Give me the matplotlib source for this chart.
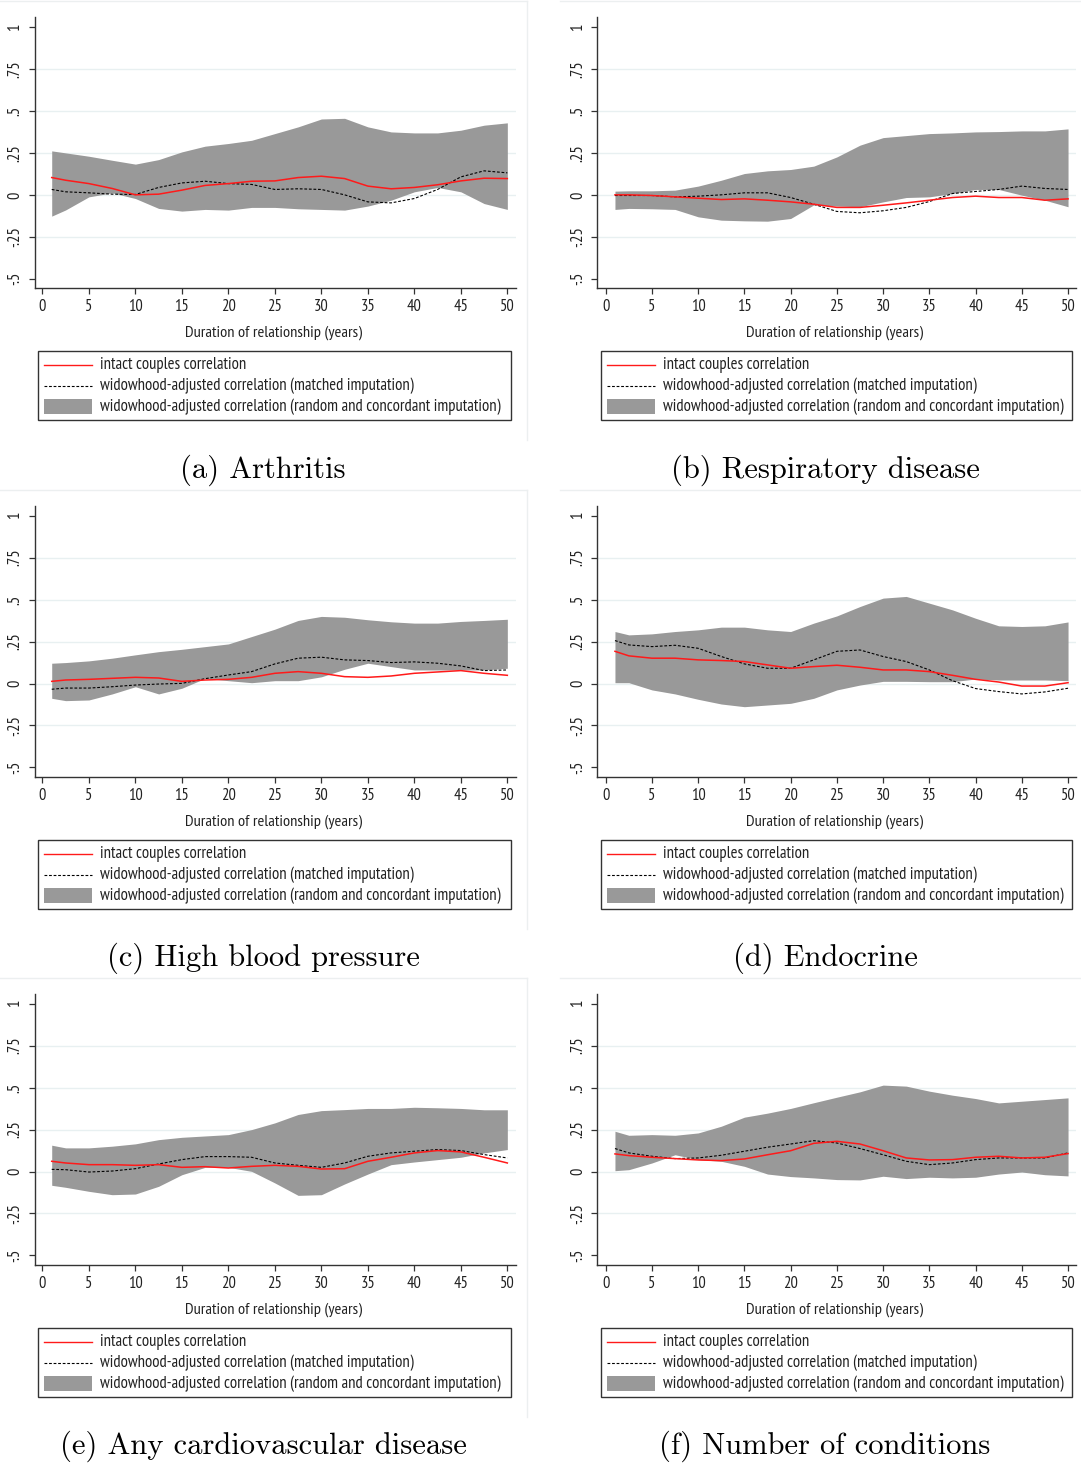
import matplotlib
matplotlib.use("Agg")
import matplotlib.pyplot as plt
from matplotlib import font_manager
from matplotlib.patches import Rectangle

# pick a narrow sans (the original uses Arial Narrow); fall back to Liberation Sans
narrow = "Liberation Sans"
for name in ["Liberation Sans Narrow", "Arial Narrow", "PT Sans Narrow", "Archivo Narrow",
             "Roboto Condensed", "Open Sans Condensed"]:
    try:
        font_manager.findfont(font_manager.FontProperties(family=name), fallback_to_default=False)
        narrow = name
        break
    except ValueError:
        pass
plt.rcParams['font.family'] = [narrow, 'DejaVu Sans']

# duration of relationship (years)
years = [1, 2.5, 5, 7.5, 10, 12.5, 15, 17.5, 20, 22.5, 25, 27.5, 30, 32.5, 35, 37.5, 40, 42.5, 45, 47.5, 50]

# (a) Arthritis
arth_red = [0.103, 0.087, 0.067, 0.038, 0.000, 0.004, 0.028, 0.056, 0.067, 0.081, 0.083, 0.103, 0.111, 0.097, 0.052, 0.036, 0.044, 0.060, 0.083, 0.099, 0.097]
arth_dash = [0.032, 0.018, 0.012, 0.004, 0.002, 0.044, 0.071, 0.081, 0.067, 0.062, 0.032, 0.036, 0.032, 0.000, -0.042, -0.048, -0.022, 0.032, 0.107, 0.143, 0.131]
arth_lo = [-0.127, -0.090, -0.012, 0.012, -0.022, -0.081, -0.097, -0.087, -0.091, -0.075, -0.075, -0.083, -0.087, -0.091, -0.067, -0.032, 0.018, 0.044, 0.018, -0.052, -0.087]
arth_hi = [0.262, 0.250, 0.230, 0.206, 0.183, 0.210, 0.256, 0.290, 0.306, 0.325, 0.365, 0.405, 0.452, 0.456, 0.405, 0.375, 0.369, 0.369, 0.385, 0.415, 0.429]

# (b) Respiratory disease
resp_red = [0.000, 0.000, -0.004, -0.012, -0.020, -0.028, -0.024, -0.032, -0.042, -0.056, -0.075, -0.075, -0.062, -0.048, -0.032, -0.016, -0.008, -0.016, -0.016, -0.032, -0.024]
resp_dash = [-0.004, -0.004, -0.004, -0.012, -0.008, 0.000, 0.012, 0.012, -0.016, -0.056, -0.099, -0.107, -0.095, -0.075, -0.040, 0.008, 0.020, 0.032, 0.052, 0.038, 0.032]
resp_lo = [-0.087, -0.081, -0.083, -0.087, -0.131, -0.151, -0.155, -0.157, -0.141, -0.060, -0.067, -0.071, -0.042, -0.016, -0.012, 0.008, 0.032, 0.032, -0.002, -0.032, -0.071]
resp_hi = [0.022, 0.024, 0.024, 0.028, 0.052, 0.087, 0.127, 0.143, 0.151, 0.171, 0.226, 0.296, 0.341, 0.353, 0.365, 0.369, 0.375, 0.377, 0.381, 0.381, 0.393]

# (c) High blood pressure
hbp_red = [0.013, 0.021, 0.025, 0.031, 0.037, 0.033, 0.013, 0.021, 0.025, 0.037, 0.061, 0.071, 0.061, 0.041, 0.037, 0.045, 0.061, 0.069, 0.077, 0.061, 0.049]
hbp_dash = [-0.034, -0.027, -0.027, -0.019, -0.009, -0.003, 0.001, 0.029, 0.051, 0.071, 0.117, 0.151, 0.157, 0.141, 0.137, 0.125, 0.129, 0.121, 0.105, 0.077, 0.081]
hbp_lo = [-0.088, -0.102, -0.098, -0.062, -0.019, -0.062, -0.028, 0.031, 0.017, 0.005, 0.017, 0.017, 0.040, 0.085, 0.121, 0.101, 0.081, 0.081, 0.081, 0.081, 0.091]
hbp_hi = [0.121, 0.125, 0.135, 0.151, 0.171, 0.190, 0.204, 0.220, 0.236, 0.280, 0.324, 0.376, 0.400, 0.395, 0.380, 0.368, 0.360, 0.360, 0.370, 0.376, 0.383]

# (d) Endocrine
endo_red = [0.192, 0.165, 0.151, 0.151, 0.141, 0.137, 0.131, 0.111, 0.091, 0.101, 0.109, 0.097, 0.081, 0.081, 0.071, 0.049, 0.025, 0.009, -0.015, -0.015, 0.005]
endo_dash = [0.256, 0.230, 0.220, 0.228, 0.210, 0.161, 0.117, 0.091, 0.091, 0.141, 0.192, 0.200, 0.161, 0.131, 0.081, 0.017, -0.030, -0.048, -0.062, -0.050, -0.028]
endo_lo = [0.005, 0.005, -0.038, -0.062, -0.094, -0.122, -0.138, -0.128, -0.118, -0.088, -0.038, -0.009, 0.013, 0.013, 0.011, 0.011, 0.027, 0.021, 0.021, 0.021, 0.017]
endo_hi = [0.310, 0.290, 0.296, 0.310, 0.320, 0.336, 0.336, 0.320, 0.310, 0.360, 0.403, 0.459, 0.509, 0.519, 0.479, 0.439, 0.389, 0.344, 0.340, 0.344, 0.367]

# (e) Any cardiovascular disease
cvd_red = [0.061, 0.051, 0.041, 0.041, 0.037, 0.041, 0.025, 0.029, 0.021, 0.031, 0.037, 0.031, 0.015, 0.017, 0.061, 0.085, 0.111, 0.125, 0.117, 0.085, 0.051]
cvd_dash = [0.013, 0.011, -0.003, 0.003, 0.017, 0.045, 0.071, 0.089, 0.089, 0.085, 0.051, 0.037, 0.025, 0.051, 0.091, 0.111, 0.121, 0.131, 0.125, 0.101, 0.081]
cvd_lo = [-0.082, -0.094, -0.118, -0.138, -0.134, -0.088, -0.019, 0.025, 0.025, 0.001, -0.068, -0.142, -0.138, -0.074, -0.015, 0.041, 0.057, 0.071, 0.085, 0.111, 0.131]
cvd_hi = [0.157, 0.141, 0.141, 0.151, 0.165, 0.190, 0.204, 0.212, 0.220, 0.250, 0.290, 0.340, 0.363, 0.369, 0.376, 0.376, 0.383, 0.380, 0.376, 0.368, 0.368]

# (f) Number of conditions
ncond_red = [0.105, 0.095, 0.085, 0.077, 0.069, 0.065, 0.075, 0.100, 0.124, 0.168, 0.180, 0.164, 0.124, 0.081, 0.069, 0.071, 0.085, 0.091, 0.081, 0.085, 0.107]
ncond_dash = [0.137, 0.111, 0.091, 0.077, 0.081, 0.097, 0.121, 0.145, 0.164, 0.184, 0.170, 0.137, 0.100, 0.061, 0.041, 0.051, 0.071, 0.081, 0.081, 0.081, 0.111]
ncond_lo = [0.005, 0.011, 0.051, 0.100, 0.071, 0.061, 0.031, -0.015, -0.030, -0.038, -0.048, -0.050, -0.028, -0.042, -0.034, -0.038, -0.034, -0.015, -0.003, -0.019, -0.026]
ncond_hi = [0.240, 0.216, 0.220, 0.216, 0.230, 0.270, 0.324, 0.348, 0.376, 0.410, 0.443, 0.475, 0.515, 0.509, 0.479, 0.455, 0.435, 0.409, 0.419, 0.429, 0.439]

captions = ["(a) Arthritis", "(b) Respiratory disease", "(c) High blood pressure",
            "(d) Endocrine", "(e) Any cardiovascular disease", "(f) Number of conditions"]
panels = [(arth_red, arth_dash, arth_lo, arth_hi), (resp_red, resp_dash, resp_lo, resp_hi),
          (hbp_red, hbp_dash, hbp_lo, hbp_hi), (endo_red, endo_dash, endo_lo, endo_hi),
          (cvd_red, cvd_dash, cvd_lo, cvd_hi), (ncond_red, ncond_dash, ncond_lo, ncond_hi)]

yticks = [-0.5, -0.25, 0, 0.25, 0.5, 0.75, 1]
ytick_labels = ["-.5", "-.25", "0", ".25", ".5", ".75", "1"]
xticks = [0, 5, 10, 15, 20, 25, 30, 35, 40, 45, 50]
xtitle = "Duration of relationship (years)"
legend_labels = ["intact couples correlation",
                 "widowhood-adjusted correlation (matched imputation)",
                 "widowhood-adjusted correlation (random and concordant imputation)"]

W, H = 1081, 1467
fig = plt.figure(figsize=(W / 100, H / 100), dpi=100)
fig.patch.set_facecolor("white")
renderer = fig.canvas.get_renderer()


def fit_size(text, target_px, start=11.0):
    # font size that makes `text` about target_px wide in the chosen family
    t = fig.text(0, 0, text, fontsize=start)
    w = t.get_window_extent(renderer).width
    t.remove()
    return start * target_px / w


leg_fs = min(fit_size(legend_labels[2], 400), 12)
xt_fs = min(fit_size(xtitle, 176), 12.5)
tick_fs = min(fit_size("50", 15), 13.5)

band_color = "#999999"
grid_color = "#e8f0f1"
text_color = "#222222"

# geometry in pixels (row 0), other rows are shifted
row_off = [0, 488.7, 976.7]
cols = [dict(ax_l=34.6, ax_r=515.8, xlim=(-0.84, 50.91), leg_l=38.3, leg_r=510.7, cap_x=263),
        dict(ax_l=597.3, ax_r=1076, xlim=(-0.91, 50.86), leg_l=601, leg_r=1072, cap_x=825)]
ax_top, ax_bot = 17.3, 288.3

# overlay in pixel coordinates for legends, captions and frames
ov = fig.add_axes([0, 0, 1, 1], zorder=-1)
ov.set_xlim(0, W)
ov.set_ylim(H, 0)
ov.axis("off")

for i, (red, dash, lo, hi) in enumerate(panels):
    r, c = divmod(i, 2)
    g = cols[c]
    off = row_off[r]
    top, bot = ax_top + off, ax_bot + off
    ax = fig.add_axes([g["ax_l"] / W, 1 - bot / H, (g["ax_r"] - g["ax_l"]) / W, (bot - top) / H])
    ax.set_xlim(*g["xlim"])
    ax.set_ylim(-0.557, 1.058)
    for yv in [-0.25, 0, 0.25, 0.5, 0.75]:
        ax.axhline(yv, color=grid_color, lw=1.0, zorder=0)
    ax.fill_between(years, lo, hi, color=band_color, lw=0, zorder=1)
    ax.plot(years, red, color="#ff1a1a", lw=1.1, zorder=3)
    ax.plot(years, dash, color="black", lw=0.8, dashes=(2.5, 1.6), zorder=2)
    for s in ["top", "right"]:
        ax.spines[s].set_visible(False)
    for s in ["left", "bottom"]:
        ax.spines[s].set_color("#333333")
        ax.spines[s].set_linewidth(1.0)
    ax.set_yticks(yticks)
    ax.set_yticklabels(ytick_labels, rotation=90, va="center")
    ax.set_xticks(xticks)
    ax.tick_params(axis="both", length=4, width=0.9, color="#333333", labelsize=tick_fs,
                   labelcolor=text_color, pad=4)
    ax.tick_params(axis="x", pad=4)

    # x axis title
    ov.text((g["ax_l"] + g["ax_r"]) / 2 - 2, 333 + off, xtitle,
            ha="center", va="center", fontsize=xt_fs, color=text_color)

    # legend
    ov.add_patch(Rectangle((g["leg_l"], 351 + off), g["leg_r"] - g["leg_l"], 69,
                           fill=False, ec="#333333", lw=1.0))
    sx0 = g["leg_l"] + 6
    sx1 = sx0 + 48
    tx = sx1 + 8
    ov.plot([sx0, sx1], [365 + off, 365 + off], color="#ff1a1a", lw=1.0)
    ov.plot([sx0, sx1], [386 + off, 386 + off], color="black", lw=0.8, dashes=(2.5, 1.6))
    ov.add_patch(Rectangle((sx0, 399 + off), sx1 - sx0, 15, color=band_color, lw=0))
    for k, lab in enumerate(legend_labels):
        ov.text(tx, [365, 386, 407][k] + off, lab, ha="left", va="center",
                fontsize=leg_fs, color=text_color)

    # caption below each panel
    ov.text(g["cap_x"], 470 + off, captions[i], ha="center", va="center",
            fontsize=22, family="cmr10", color="black")

# faint frames of the sub-graphs
for off in row_off:
    ov.plot([0, 527], [1 + off, 1 + off], color="#eceff0", lw=1.0)
    ov.plot([560, 1081], [1 + off, 1 + off], color="#eceff0", lw=1.0)
    ov.plot([527, 527], [1 + off, 440 + off], color="#eceff0", lw=1.0)

fig.savefig("out.png", dpi=100)
